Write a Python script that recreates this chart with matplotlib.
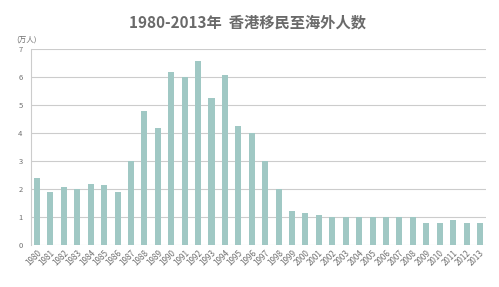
import matplotlib
matplotlib.use("Agg")
import matplotlib.pyplot as plt

plt.rcParams['font.family'] = ['Noto Sans CJK SC', 'DejaVu Sans']

years = [str(y) for y in range(1980, 2014)]
values = [2.4, 1.9, 2.1, 2.0, 2.2, 2.15, 1.9, 3.0, 4.8, 4.2,
          6.2, 6.0, 6.6, 5.25, 6.1, 4.25, 4.0, 3.0, 2.0, 1.22,
          1.15, 1.08, 1.03, 1.0, 1.0, 1.0, 1.0, 1.0, 1.0, 0.8,
          0.8, 0.92, 0.8, 0.8]
yticks = [0, 1, 2, 3, 4, 5, 6, 7]
title = "1980-2013年  香港移民至海外人数"
unit_label = "(万人)"

fig = plt.figure(figsize=(4.99, 2.87), dpi=100)
ax = fig.add_axes([0.062, 0.1446, 0.912, 0.6836])

x = list(range(len(years)))
ax.bar(x, values, width=0.45, color='#a0c8c4', zorder=3)

ax.set_xlim(-0.45, len(years) - 0.55)
ax.set_ylim(0, 7)
ax.set_yticks(yticks)
ax.set_yticklabels([str(t) for t in yticks], fontsize=5.5, color='#707070')
ax.set_xticks(x)
ax.set_xticklabels(years, rotation=45, ha='right', va='top', fontsize=5.8,
                   color='#707070', rotation_mode='anchor')
ax.tick_params(axis='y', length=0, pad=6)
ax.tick_params(axis='x', length=0, pad=2)

ax.grid(axis='y', color='#cccccc', linewidth=0.8, zorder=0)
for s in ['top', 'right', 'bottom']:
    ax.spines[s].set_visible(False)
ax.spines['left'].set_color('#cccccc')
ax.spines['left'].set_linewidth(0.8)

fig.text(0.495, 0.923, title, ha='center', va='center', fontsize=11,
         fontweight='bold', color='#6a6a6a')
fig.text(0.054, 0.862, unit_label, ha='center', va='center', fontsize=5.5,
         color='#707070')

fig.savefig('out.png', dpi=100, facecolor='white')
